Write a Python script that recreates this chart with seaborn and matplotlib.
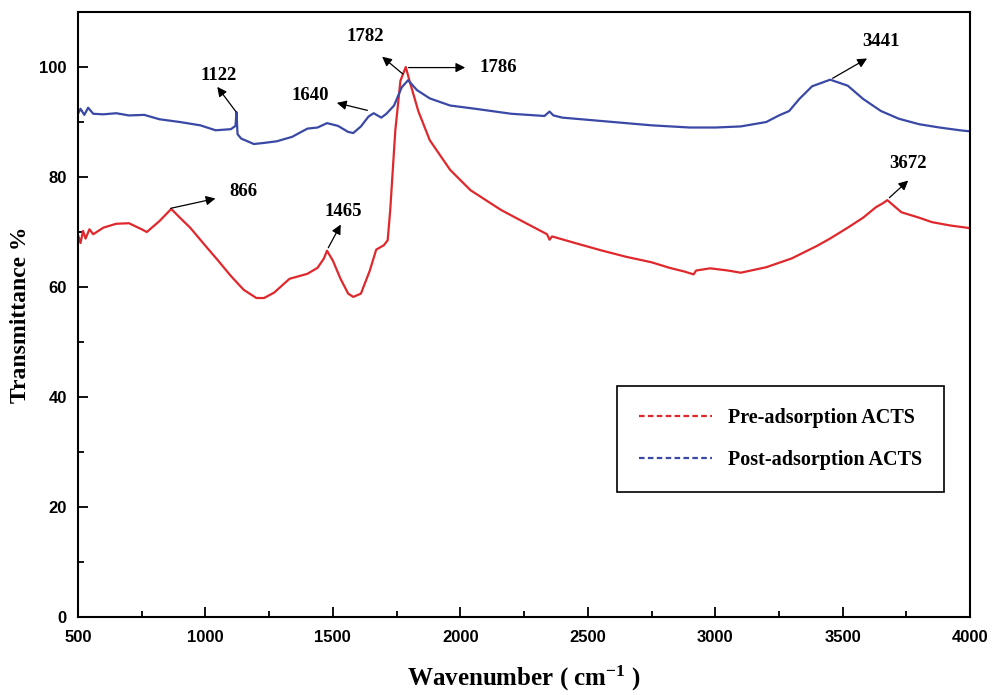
import pandas as pd
import seaborn as sns
import matplotlib.pyplot as plt
from matplotlib.lines import Line2D

# Pre-adsorption ACTS spectrum
pre_wn = [500, 510, 520, 530, 545, 560, 600, 650, 700, 750, 770, 820, 866, 900, 940,
          1000, 1050, 1100, 1150, 1200, 1230, 1270, 1330, 1400, 1440, 1465, 1477, 1500,
          1530, 1560, 1580, 1610, 1645, 1670, 1700, 1715, 1725, 1745, 1765, 1786, 1800,
          1835, 1880, 1960, 2040, 2160, 2270, 2340, 2350, 2360, 2450, 2550, 2650, 2750,
          2820, 2880, 2915, 2925, 2980, 3050, 3100, 3200, 3300, 3400, 3450, 3520, 3580,
          3630, 3660, 3675, 3690, 3730, 3800, 3850, 3920, 4000]
pre_t = [69.5, 68.0, 70.2, 68.8, 70.5, 69.6, 70.8, 71.5, 71.6, 70.5, 70.0, 72.0, 74.2,
         72.6, 70.8, 67.5, 64.8, 62.0, 59.5, 58.0, 58.0, 59.0, 61.5, 62.4, 63.5, 65.2,
         66.6, 64.8, 61.5, 58.8, 58.2, 58.8, 63.0, 66.8, 67.6, 68.5, 74.0, 88.5, 97.5,
         100.0, 97.6, 92.0, 86.7, 81.3, 77.6, 74.0, 71.3, 69.6, 68.6, 69.2, 68.0, 66.7,
         65.5, 64.5, 63.5, 62.8, 62.3, 63.0, 63.4, 63.0, 62.6, 63.6, 65.2, 67.5, 68.8,
         70.8, 72.6, 74.5, 75.3, 75.8, 75.2, 73.6, 72.6, 71.8, 71.2, 70.7]

# Post-adsorption ACTS spectrum (ends with drop to 0 at 4000)
post_wn = [500, 510, 525, 540, 560, 600, 650, 700, 760, 820, 900, 980, 1040, 1100, 1118,
           1122, 1126, 1140, 1190, 1230, 1280, 1340, 1400, 1440, 1477, 1520, 1560, 1580,
           1610, 1640, 1660, 1690, 1710, 1740, 1770, 1795, 1830, 1880, 1960, 2060, 2200,
           2330, 2350, 2365, 2400, 2600, 2750, 2900, 3000, 3100, 3200, 3250, 3290, 3330,
           3380, 3451, 3520, 3580, 3650, 3720, 3800, 3880, 3960, 4000, 4000]
post_t = [91.5, 92.4, 91.3, 92.6, 91.5, 91.4, 91.6, 91.2, 91.3, 90.5, 90.0, 89.4, 88.5,
          88.7, 89.3, 91.8, 87.8, 87.0, 86.0, 86.2, 86.5, 87.3, 88.8, 89.0, 89.8, 89.3,
          88.2, 88.0, 89.2, 91.0, 91.6, 90.8, 91.5, 93.0, 96.3, 97.6, 95.8, 94.3, 93.0,
          92.4, 91.5, 91.1, 91.9, 91.2, 90.8, 90.0, 89.4, 89.0, 89.0, 89.2, 90.0, 91.2,
          92.0, 94.2, 96.5, 97.7, 96.6, 94.2, 92.0, 90.6, 89.6, 89.0, 88.5, 88.3, 0.0]

df_pre = pd.DataFrame({"wn": pre_wn, "t": pre_t})
df_post = pd.DataFrame({"wn": post_wn, "t": post_t})

red = "#e0282c"
blue = "#3a48a6"

plt.rcParams['font.family'] = ['Liberation Serif', 'DejaVu Serif']
plt.rcParams['mathtext.fontset'] = 'custom'
plt.rcParams['mathtext.rm'] = 'Liberation Serif:bold'
plt.rcParams['mathtext.bf'] = 'Liberation Serif:bold'
plt.rcParams['mathtext.default'] = 'bf'

fig = plt.figure(figsize=(9.93, 6.95), dpi=100)
ax = fig.add_axes([0.0785, 0.1122, 0.8985, 0.8705])

sns.lineplot(data=df_pre, x="wn", y="t", color=red, lw=1.6, sort=False, estimator=None, ax=ax)
sns.lineplot(data=df_post, x="wn", y="t", color=blue, lw=1.6, sort=False, estimator=None, ax=ax)

ax.set_xlim(500, 4000)
ax.set_ylim(0, 110)
ax.set_xticks(range(500, 4001, 500))
ax.set_xticks(range(750, 4000, 500), minor=True)
ax.set_yticks(range(0, 101, 20))
ax.set_yticks(range(10, 100, 20), minor=True)
ax.tick_params(direction='in', which='major', length=7, width=1.3)
ax.tick_params(direction='in', which='minor', length=4, width=1.3)
ax.tick_params(axis='x', which='major', pad=9)
ax.tick_params(axis='y', which='major', pad=8)
for lab in ax.get_xticklabels() + ax.get_yticklabels():
    lab.set_fontfamily('Liberation Sans')
    lab.set_fontweight('bold')
    lab.set_fontsize(12)
for s in ax.spines.values():
    s.set_linewidth(1.5)
    s.set_color('black')

ax.set_xlabel("Wavenumber ( cm$^{-1}$ )", fontsize=18, fontweight='bold', labelpad=14)
ax.set_ylabel("Transmittance %", fontsize=17, fontweight='bold', labelpad=6)

# peak annotations: (label, tip, arrow head, text)
notes = [
    ("1122", (1126, 91.5), (1040, 96.8), (1050, 98.5)),
    ("1640", (1646, 92.0), (1505, 93.6), (1410, 94.8)),
    ("1782", (1783, 98.4), (1685, 102.2), (1627, 105.6)),
    ("1786", (1786, 99.9), (2030, 99.9), (2150, 100.0)),
    ("866", (853, 74.2), (1050, 76.2), (1150, 77.3)),
    ("1465", (1477, 66.7), (1536, 71.8), (1540, 73.8)),
    ("3441", (3451, 97.7), (3605, 101.8), (3650, 104.6)),
    ("3672", (3675, 75.9), (3765, 79.7), (3755, 82.4)),
]
for label, tip, head, txt in notes:
    ax.annotate("", xy=head, xytext=tip,
                arrowprops=dict(arrowstyle="-|>", color="black", lw=0.9, mutation_scale=14))
    ax.text(txt[0], txt[1], label, fontsize=13.5, fontweight='bold', ha='center', va='center')

handles = [Line2D([], [], color=red, lw=1.6, ls=(0, (2.5, 1.5))),
           Line2D([], [], color=blue, lw=1.6, ls=(0, (2.5, 1.5)))]
leg = ax.legend(handles, ["Pre-adsorption ACTS", "Post-adsorption ACTS"],
                loc='center', bbox_to_anchor=(0.7875, 0.294), fancybox=False,
                edgecolor='black', framealpha=1, borderpad=1.1, labelspacing=1.1,
                handlelength=3.6, handletextpad=0.8,
                prop={'family': 'Liberation Serif', 'weight': 'bold', 'size': 14.5})
leg.get_frame().set_linewidth(1.2)

fig.savefig("out.png", dpi=100)
